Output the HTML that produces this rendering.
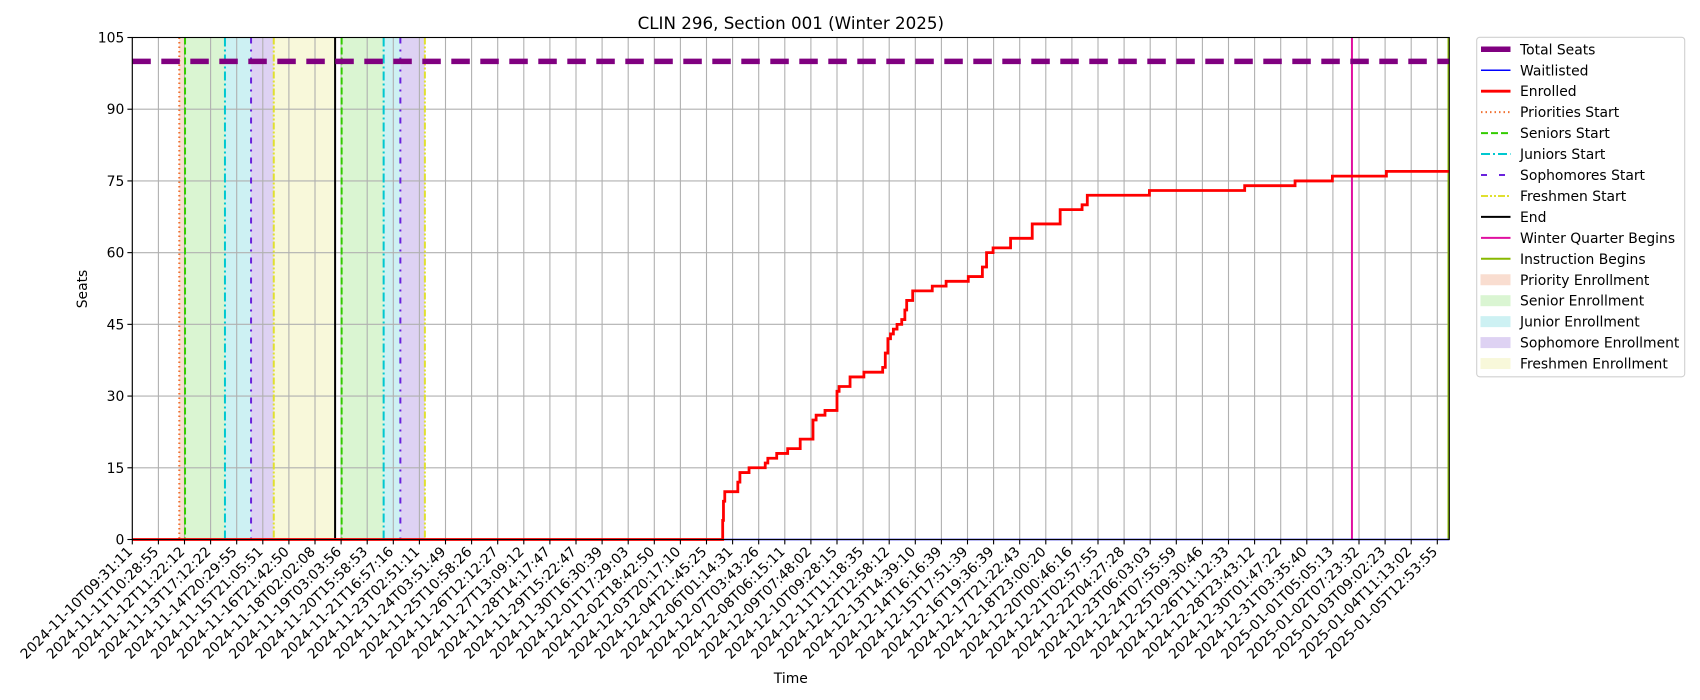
<!DOCTYPE html>
<html><head><meta charset="utf-8"><style>
html,body{margin:0;padding:0;background:#fff;}
svg{display:block;font-family:"DejaVu Sans","Liberation Sans",sans-serif;}
</style></head><body>
<svg id="chart" width="1700" height="700" viewBox="0 0 1700 700">
<text x="790.8" y="29" font-size="16.7" text-anchor="middle" fill="#000">CLIN 296, Section 001 (Winter 2025)</text>
<g id="plot"></g>
<text x="790.8" y="683" font-size="13.9" text-anchor="middle">Time</text>
<text x="0" y="0" font-size="13.9" text-anchor="middle" transform="translate(87,289) rotate(-90)">Seats</text>
<g id="legend"></g>
</svg>
<script>
const tickLabels=["2024-11-10T09:31:11","2024-11-11T10:28:55","2024-11-12T11:22:12","2024-11-13T17:12:22","2024-11-14T20:29:55","2024-11-15T21:05:51","2024-11-16T21:42:50","2024-11-18T02:02:08","2024-11-19T03:03:56","2024-11-20T15:58:53","2024-11-21T16:57:16","2024-11-23T02:51:11","2024-11-24T03:51:49","2024-11-25T10:58:26","2024-11-26T12:12:27","2024-11-27T13:09:12","2024-11-28T14:17:47","2024-11-29T15:22:47","2024-11-30T16:30:39","2024-12-01T17:29:03","2024-12-02T18:42:50","2024-12-03T20:17:10","2024-12-04T21:45:25","2024-12-06T01:14:31","2024-12-07T03:43:26","2024-12-08T06:15:11","2024-12-09T07:48:02","2024-12-10T09:28:15","2024-12-11T11:18:35","2024-12-12T12:58:12","2024-12-13T14:39:10","2024-12-14T16:16:39","2024-12-15T17:51:39","2024-12-16T19:36:39","2024-12-17T21:22:43","2024-12-18T23:00:20","2024-12-20T00:46:16","2024-12-21T02:57:55","2024-12-22T04:27:28","2024-12-23T06:03:03","2024-12-24T07:55:59","2024-12-25T09:30:46","2024-12-26T11:12:33","2024-12-28T23:43:12","2024-12-30T01:47:22","2024-12-31T03:35:40","2025-01-01T05:05:13","2025-01-02T07:23:32","2025-01-03T09:02:23","2025-01-04T11:13:02","2025-01-05T12:53:55"];
const yTicks=[0,15,30,45,60,75,90,105];
const enrollIdx=[0,22.6,22.62,22.65,22.7,23.2,23.28,23.63,24.25,24.35,24.69,25.11,25.59,26.08,26.2,26.54,27.0,27.08,27.5,28.03,28.75,28.85,28.95,29.05,29.16,29.3,29.48,29.6,29.67,29.9,30.65,31.18,32.03,32.57,32.73,32.98,33.65,34.48,35.55,36.39,36.59,38.97,42.62,44.55,45.98,48.05];
const enrollVals=[0,0,4,8,10,12,14,15,16,17,18,19,21,25,26,27,31,32,34,35,36,39,42,43,44,45,46,48,50,52,53,54,55,57,60,61,63,66,69,70,72,73,74,75,76,77];
const totalSeats=100;
const xMin=-0.0, xMax=50.46, yMin=0, yMax=105;
const eventNames=["Priorities Start","Seniors Start","Juniors Start","Sophomores Start","Freshmen Start","End","Seniors Start","Juniors Start","Sophomores Start","Freshmen Start","Winter Quarter Begins","Instruction Begins"];
const eventIdx=[1.80,2.02,3.55,4.55,5.42,7.77,8.02,9.63,10.27,11.21,46.73,50.43];
const shadeNames=["Priority Enrollment","Senior Enrollment","Junior Enrollment","Sophomore Enrollment","Freshmen Enrollment","Senior Enrollment","Junior Enrollment","Sophomore Enrollment"];
const shadeStart=[1.80,2.02,3.55,4.55,5.42,8.02,9.63,10.27];
const shadeEnd=[2.02,3.55,4.55,5.42,7.77,9.63,10.27,11.21];

const L=132.3,R=1449.3,T=37.5,B=539.5,tickStep=26.1;
const NS="http://www.w3.org/2000/svg";
function X(i){return L+i*tickStep;}
function Y(v){return B-(v-yMin)/(yMax-yMin)*(B-T);}
function el(tag,attrs,parent){const e=document.createElementNS(NS,tag);for(const k in attrs)e.setAttribute(k,attrs[k]);parent.appendChild(e);return e;}
const styles={
"Priorities Start":{c:"#f07030",d:"1.5,3"},
"Seniors Start":{c:"#33cc00",d:"7,3"},
"Juniors Start":{c:"#00c8d0",d:"9,3,2,3"},
"Sophomores Start":{c:"#6a22dd",d:"6,6,2,6"},
"Freshmen Start":{c:"#e0e030",d:"7,2,2,2,2,2"},
"End":{c:"#000000",d:""},
"Winter Quarter Begins":{c:"#e010a0",d:""},
"Instruction Begins":{c:"#88b800",d:""}};
const fills={"Priority Enrollment":"#f9ddd0","Senior Enrollment":"#daf5d2","Junior Enrollment":"#cdf1f3","Sophomore Enrollment":"#ded2f3","Freshmen Enrollment":"#f8f8da"};
const g=document.getElementById('plot');
shadeNames.forEach((n,k)=>{
 const r=el('rect',{x:X(shadeStart[k]),y:T,width:X(shadeEnd[k])-X(shadeStart[k]),height:B-T,fill:fills[n]},g);
 
 
});
tickLabels.forEach((t,i)=>{
 const l=el('line',{x1:X(i),x2:X(i),y1:T,y2:B,stroke:"#b0b0b0","stroke-width":1.1},g);
 
 
});
yTicks.forEach(v=>{
 const l=el('line',{x1:L,x2:R,y1:Y(v),y2:Y(v),stroke:"#b0b0b0","stroke-width":1.1},g);
 
 
});
eventNames.forEach((n,k)=>{
 const s=styles[n];
 const l=el('line',{x1:X(eventIdx[k]),x2:X(eventIdx[k]),y1:T,y2:B,stroke:s.c,"stroke-width":2,"stroke-dasharray":s.d},g);
 
 
});
const ts=el('line',{x1:L,x2:R,y1:Y(totalSeats),y2:Y(totalSeats),stroke:"#800080","stroke-width":5.5,"stroke-dasharray":"18.5,10.5"},g);


const wl=el('line',{x1:L,x2:R,y1:Y(0),y2:Y(0),stroke:"#0000ff","stroke-width":1.4},g);


let d="M"+X(enrollIdx[0])+","+Y(enrollVals[0]);
for(let k=1;k<enrollIdx.length;k++){d+=" H"+X(enrollIdx[k])+" V"+Y(enrollVals[k]);}
d+=" H"+X(xMax);
const ep=el('path',{d:d,fill:"none",stroke:"#ff0000","stroke-width":2.8,"stroke-linejoin":"miter"},g);


const sp=el('rect',{x:L,y:T,width:R-L,height:B-T,fill:"none",stroke:"#000","stroke-width":1.1},g);


tickLabels.forEach((t,i)=>{
 const tk=el('line',{x1:X(i),x2:X(i),y1:B,y2:B+4.9,stroke:"#000","stroke-width":1.1},g);
 
 
 const tx=el('text',{x:0,y:0,"font-size":13.9,"text-anchor":"end",transform:"translate("+(X(i)+1)+","+(B+13)+") rotate(-45)"},g);
 tx.textContent=t;
 
 
});
yTicks.forEach(v=>{
 const tk=el('line',{x1:L-4.9,x2:L,y1:Y(v),y2:Y(v),stroke:"#000","stroke-width":1.1},g);
 
 
 const tx=el('text',{x:L-8,y:Y(v)+5,"font-size":13.9,"text-anchor":"end"},g);
 tx.textContent=v;
 
 
});
const lg=document.getElementById('legend');
const lb=el('rect',{x:1476.7,y:37.3,width:208,height:339.5,rx:3,fill:"#fff",stroke:"#d0d0d0","stroke-width":1.1},lg);


const legendItems=[
 {n:"Total Seats",t:"line",c:"#800080",w:5.5,d:""},
 {n:"Waitlisted",t:"line",c:"#0000ff",w:1.4,d:""},
 {n:"Enrolled",t:"line",c:"#ff0000",w:2.8,d:""},
 {n:"Priorities Start",t:"line",c:styles["Priorities Start"].c,w:2,d:styles["Priorities Start"].d},
 {n:"Seniors Start",t:"line",c:styles["Seniors Start"].c,w:2,d:styles["Seniors Start"].d},
 {n:"Juniors Start",t:"line",c:styles["Juniors Start"].c,w:2,d:styles["Juniors Start"].d},
 {n:"Sophomores Start",t:"line",c:styles["Sophomores Start"].c,w:2,d:"6,12"},
 {n:"Freshmen Start",t:"line",c:styles["Freshmen Start"].c,w:2,d:styles["Freshmen Start"].d},
 {n:"End",t:"line",c:"#000",w:2,d:""},
 {n:"Winter Quarter Begins",t:"line",c:styles["Winter Quarter Begins"].c,w:2,d:""},
 {n:"Instruction Begins",t:"line",c:styles["Instruction Begins"].c,w:2,d:""},
 {n:"Priority Enrollment",t:"patch",c:fills["Priority Enrollment"]},
 {n:"Senior Enrollment",t:"patch",c:fills["Senior Enrollment"]},
 {n:"Junior Enrollment",t:"patch",c:fills["Junior Enrollment"]},
 {n:"Sophomore Enrollment",t:"patch",c:fills["Sophomore Enrollment"]},
 {n:"Freshmen Enrollment",t:"patch",c:fills["Freshmen Enrollment"]}];
legendItems.forEach((it,k)=>{
 const y=49.3+k*20.95;
 const grp=el('g',{},lg);
 
 
 if(it.t==="line"){
  el('line',{x1:1481,x2:1510.5,y1:y,y2:y,stroke:it.c,"stroke-width":it.w,"stroke-dasharray":it.d},grp);
 } else {
  el('rect',{x:1481,y:y-5,width:29,height:10,fill:it.c,stroke:it.c,"stroke-width":1},grp);
 }
 const tx=el('text',{x:1520,y:y+5,"font-size":13.9},grp);
 tx.textContent=it.n;
});
</script>
</body></html>
